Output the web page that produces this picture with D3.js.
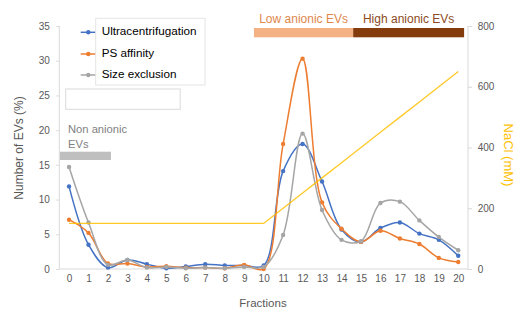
<!DOCTYPE html>
<html>
<head>
<meta charset="utf-8">
<script src="https://cdn.jsdelivr.net/npm/d3@7"></script>
<style>
  html, body { margin: 0; padding: 0; background: #fff; }
  svg { display: block; font-family: "Liberation Sans", Arial, sans-serif; }
</style>
</head>
<body>
<svg id="chart" width="518" height="310"></svg>
<script>
// ---- Data ----
const fractions = d3.range(0, 21);
const seriesNames = ["Ultracentrifugation", "PS affinity", "Size exclusion"];
const ultracentrifugation = [11.9, 3.5, 0.2, 1.3, 0.7, 0.1, 0.35, 0.7, 0.5, 0.5, 0.5, 14.1, 18.0, 12.6, 5.7, 3.9, 5.9, 6.7, 5.1, 4.2, 1.9];
const psAffinity = [7.1, 5.2, 0.8, 0.8, 0.3, 0.4, 0.2, 0.2, 0.1, 0.6, 0.0, 18.0, 30.3, 9.6, 5.8, 3.9, 5.5, 4.4, 3.6, 1.6, 1.0];
const sizeExclusion = [14.7, 6.7, 0.6, 1.3, 0.2, 0.3, 0.1, 0.2, 0.1, 0.3, 0.3, 4.9, 19.5, 8.5, 4.2, 4.0, 9.5, 9.7, 7.0, 4.6, 2.7];
const nacl = [150, 150, 150, 150, 150, 150, 150, 150, 150, 150, 150, 200, 250, 300, 350, 400, 450, 500, 550, 600, 650];
const leftTicks = [0, 5, 10, 15, 20, 25, 30, 35];
const rightTicks = [0, 200, 400, 600, 800];
const seriesColors = ["#4472C4", "#ED7D31", "#A5A5A5"];
const naclColor = "#FFC000";
// annotation groups: [label, firstFraction, lastFraction]
const lowAnionic = ["Low anionic EVs", 9.5, 14.6];
const highAnionic = ["High anionic EVs", 14.6, 20.3];

const seriesValues = [ultracentrifugation, psAffinity, sizeExclusion];

// ---- Layout ----
const svg = d3.select("#chart");
const pLeft = 59.3, pRight = 468, pTop = 26, pBottom = 269;

const x = d3.scaleLinear().domain([-0.5, 20.5]).range([pLeft, pRight]);
const y = d3.scaleLinear().domain([0, 35]).range([pBottom, pTop]);
const y2 = d3.scaleLinear().domain([0, 800]).range([pBottom, pTop]);

const axisColor = "#D9D9D9";
const labelColor = "#595959";

// Left axis
const gL = svg.append("g").attr("transform", `translate(${pLeft},0)`)
  .call(d3.axisLeft(y).tickValues(leftTicks).tickSize(3).tickPadding(6.5));
// Right axis
const gR = svg.append("g").attr("transform", `translate(${pRight},0)`)
  .call(d3.axisRight(y2).tickValues(rightTicks).tickSize(4).tickPadding(5.7));
// Bottom axis
const gB = svg.append("g").attr("transform", `translate(0,${pBottom})`)
  .call(d3.axisBottom(x).tickValues(fractions).tickFormat(d3.format("d")).tickSize(0).tickPadding(5.5));

[gL, gR, gB].forEach(g => {
  g.select(".domain").attr("stroke", axisColor).attr("stroke-width", 1);
  g.selectAll(".tick line").attr("stroke", axisColor);
  g.selectAll(".tick text").attr("fill", labelColor).attr("font-size", 10)
    .attr("font-family", '"Liberation Sans", Arial, sans-serif');
});
gL.select(".domain").attr("d", `M0,${pTop}V${pBottom}`);
gR.select(".domain").attr("d", `M0,${pTop}V${pBottom}`);
gB.select(".domain").attr("d", `M${pLeft},0H${pRight}`);

// Axis titles
svg.append("text")
  .attr("transform", `translate(20,148) rotate(-90)`)
  .attr("text-anchor", "middle").attr("dominant-baseline", "middle")
  .attr("font-size", 12).attr("fill", labelColor)
  .text("Number of EVs (%)");
svg.append("text")
  .attr("transform", `translate(507,155) rotate(90)`)
  .attr("text-anchor", "middle").attr("dominant-baseline", "middle")
  .attr("font-size", 13).attr("fill", naclColor)
  .text("NaCl (mM)");
svg.append("text")
  .attr("x", 263).attr("y", 307)
  .attr("text-anchor", "middle")
  .attr("font-size", 11.5).attr("fill", labelColor)
  .text("Fractions");

// Series lines
const line = d3.line()
  .x((d, i) => x(fractions[i]))
  .y(d => y(d))
  .curve(d3.curveCatmullRom.alpha(0.5));

seriesValues.forEach((vals, si) => {
  svg.append("path")
    .datum(vals)
    .attr("d", line)
    .attr("fill", "none")
    .attr("stroke", seriesColors[si])
    .attr("stroke-width", 1.5);
  svg.append("g").selectAll("circle")
    .data(vals).join("circle")
    .attr("cx", (d, i) => x(fractions[i]))
    .attr("cy", d => y(d))
    .attr("r", 2.2)
    .attr("fill", seriesColors[si]);
});

// NaCl line
const line2 = d3.line().x((d, i) => x(fractions[i])).y(d => y2(d));
svg.append("path")
  .datum(nacl)
  .attr("d", line2)
  .attr("fill", "none")
  .attr("stroke", naclColor)
  .attr("stroke-width", 1.3)
  .attr("stroke-opacity", 0.85);

// Legend
const legRows = [32.3, 54, 75];
seriesNames.forEach((name, i) => {
  svg.append("line")
    .attr("x1", 80.7).attr("x2", 96)
    .attr("y1", legRows[i]).attr("y2", legRows[i])
    .attr("stroke", seriesColors[i]).attr("stroke-width", 1.5);
  svg.append("circle")
    .attr("cx", 88.3).attr("cy", legRows[i]).attr("r", 2.2)
    .attr("fill", seriesColors[i]);
});
svg.append("rect")
  .attr("x", 95.7).attr("y", 18.3).attr("width", 109.3).attr("height", 66.7)
  .attr("fill", "#fff").attr("stroke", "#E4E4E4").attr("stroke-width", 1);
seriesNames.forEach((name, i) => {
  svg.append("text")
    .attr("x", 101.7).attr("y", legRows[i])
    .attr("dominant-baseline", "middle")
    .attr("font-size", 11.7).attr("fill", "#000")
    .text(name);
});
// empty box below legend
svg.append("rect")
  .attr("x", 65.7).attr("y", 89).attr("width", 114.5).attr("height", 20.3)
  .attr("fill", "#fff").attr("stroke", "#DADADA").attr("stroke-width", 1);

// Non anionic annotation
svg.append("text")
  .attr("x", 68).attr("y", 132.5)
  .attr("font-size", 11.2).attr("fill", "#7F7F7F")
  .text("Non anionic");
svg.append("text")
  .attr("x", 68).attr("y", 147.5)
  .attr("font-size", 11.2).attr("fill", "#7F7F7F")
  .text("EVs");
svg.append("rect")
  .attr("x", 60).attr("y", 151.7).attr("width", 51).attr("height", 8.3)
  .attr("fill", "#BFBFBF");

// Low / High anionic annotations
const bars = [[lowAnionic, "#F4B183", "#E0874C"], [highAnionic, "#843C0C", "#8B4A22"]];
bars.forEach(([ann, fill, textColor]) => {
  const x0 = x(ann[1]), x1 = x(ann[2]);
  svg.append("rect")
    .attr("x", x0).attr("y", 28).attr("width", x1 - x0).attr("height", 9.3)
    .attr("fill", fill);
  svg.append("text")
    .attr("x", (x0 + x1) / 2).attr("y", 22.5)
    .attr("text-anchor", "middle")
    .attr("font-size", 12).attr("fill", textColor)
    .text(ann[0]);
});
</script>
</body>
</html>
